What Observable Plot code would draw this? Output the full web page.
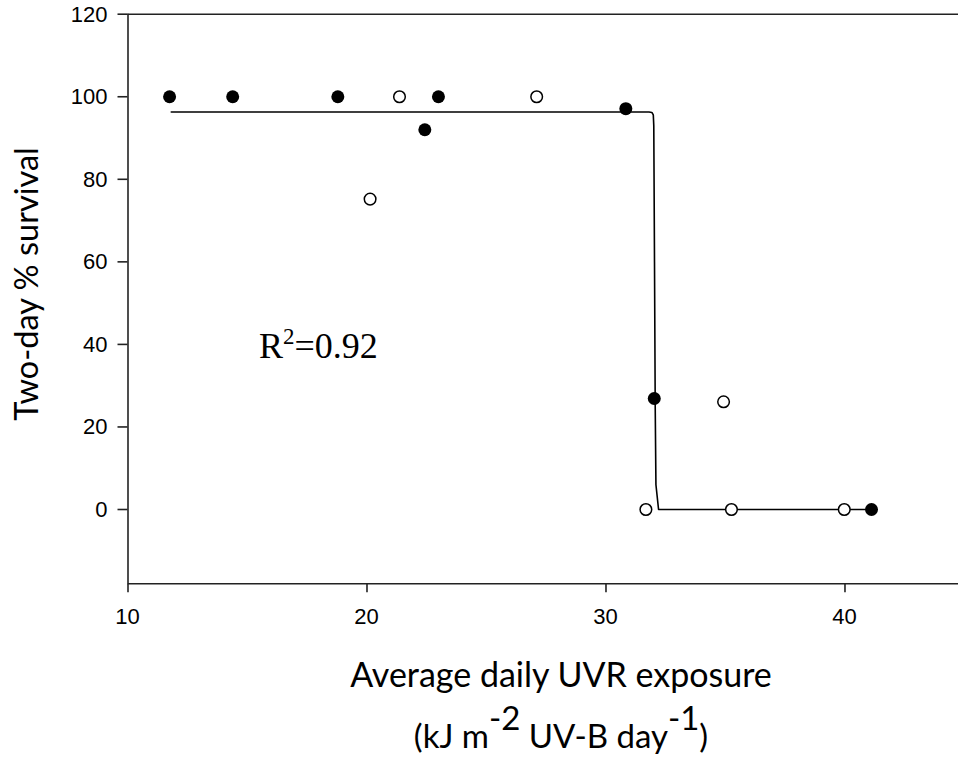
<!DOCTYPE html>
<html>
<head>
<meta charset="utf-8">
<script src="https://cdn.jsdelivr.net/npm/d3@7"></script>
<script src="https://cdn.jsdelivr.net/npm/@observablehq/plot@0.6"></script>
<style>
  html, body { margin: 0; padding: 0; background: #fff; overflow: hidden; }
  #chart { width: 958px; height: 757px; }
</style>
</head>
<body>
<div id="chart"></div>
<script>
// Filled circles (series 1)
const filledX = [11.74, 14.38, 18.78, 22.42, 22.99, 30.83, 32.02, 41.11];
const filledY = [100, 100, 100, 92.0, 100, 97.1, 26.9, 0];
// Open circles (series 2)
const openX = [20.13, 21.36, 27.10, 31.67, 34.92, 35.25, 39.97];
const openY = [75.2, 100, 100, 0, 26.1, 0, 0];
// Fitted sigmoid curve
const fitX = [11.81, 31.80, 31.92, 31.98, 32.00, 32.03, 32.06, 32.09, 32.20, 41.11];
const fitY = [96.3, 96.3, 96.2, 95.6, 93.0, 60.0, 25.0, 6.0, 0.0, 0.0];
// Ticks
const xTicks = [10, 20, 30, 40];
const yTicks = [0, 20, 40, 60, 80, 100, 120];
const xDomain = [10, 44.75];
const yDomain = [-18, 120];
// Annotation
const r2Label = {base: "R", sup: "2", rest: "=0.92", x: 15.5, y: 36.6};
const xLabel1 = "Average daily UVR exposure";
const yLabel = "Two-day % survival";

const filled = filledX.map((x, i) => ({x, y: filledY[i]}));
const open = openX.map((x, i) => ({x, y: openY[i]}));
const fit = fitX.map((x, i) => ({x, y: fitY[i]}));

const axisColor = "#222";
const tickFont = "'Liberation Sans', Arial, sans-serif";
const plot = Plot.plot({
  width: 958,
  height: 757,
  marginLeft: 127.5,
  marginRight: 0,
  marginTop: 13.7,
  marginBottom: 173.7,
  style: {background: "#fff", overflow: "visible"},
  x: {domain: xDomain},
  y: {domain: yDomain},
  marks: [
    Plot.ruleY([yDomain[0]], {stroke: axisColor, strokeWidth: 1.6}),
    Plot.ruleY([yDomain[1]], {stroke: axisColor, strokeWidth: 1.6}),
    Plot.ruleX([xDomain[0]], {stroke: axisColor, strokeWidth: 1.6}),
    Plot.axisX({ticks: xTicks, tickSize: 9, label: null, tickFormat: () => "",
      stroke: axisColor, strokeWidth: 1.6}),
    Plot.axisY({ticks: yTicks, tickSize: 10, label: null, tickFormat: () => "",
      stroke: axisColor, strokeWidth: 1.6}),
    Plot.line(fit, {x: "x", y: "y", stroke: "#000", strokeWidth: 1.6, curve: "linear"}),
    Plot.dot(filled, {x: "x", y: "y", r: 6.5, fill: "#000", stroke: "none"}),
    Plot.dot(open, {x: "x", y: "y", r: 5.8, fill: "#fff", stroke: "#000", strokeWidth: 1.5})
  ]
});
document.getElementById("chart").appendChild(plot);

const svg = d3.select(plot);
const sx = plot.scale("x"), sy = plot.scale("y");

// Tick labels, positioned through the plot's scales
const xBottom = sy.apply(yDomain[0]);
const yLeft = sx.apply(xDomain[0]);
const tl = svg.append("g")
  .attr("font-family", tickFont).attr("font-size", 22).attr("fill", "#000");
tl.selectAll("text.xt").data(xTicks).join("text")
  .attr("class", "xt")
  .attr("x", d => sx.apply(d)).attr("y", xBottom + 40.5)
  .attr("text-anchor", "middle")
  .text(d => String(d));
tl.selectAll("text.yt").data(yTicks).join("text")
  .attr("class", "yt")
  .attr("x", yLeft - 20).attr("y", d => sy.apply(d) + 8)
  .attr("text-anchor", "end")
  .text(d => String(d));

// R^2 annotation
const r2 = svg.append("text")
  .attr("x", sx.apply(r2Label.x)).attr("y", sy.apply(r2Label.y))
  .attr("text-anchor", "start")
  .attr("font-family", "'Liberation Serif', 'Times New Roman', serif")
  .attr("font-size", 36).attr("fill", "#000");
r2.append("tspan").text(r2Label.base);
r2.append("tspan").attr("font-size", 23).attr("dy", -14).text(r2Label.sup);
r2.append("tspan").attr("dy", 14).text(r2Label.rest);

// Axis labels
const labelFont = "Lato, 'Open Sans', sans-serif";
svg.append("text")
  .attr("transform", "translate(38,284) rotate(-90)")
  .attr("text-anchor", "middle")
  .attr("font-family", labelFont).attr("font-size", 32.5).attr("fill", "#000")
  .text(yLabel);

svg.append("text")
  .attr("x", 561).attr("y", 687)
  .attr("text-anchor", "middle")
  .attr("font-family", labelFont).attr("font-size", 34).attr("fill", "#000")
  .text(xLabel1);

const l2 = svg.append("text")
  .attr("x", 561).attr("y", 748)
  .attr("text-anchor", "middle")
  .attr("font-family", labelFont).attr("font-size", 33).attr("fill", "#000");
l2.append("tspan").text("(kJ m");
l2.append("tspan").attr("dy", -18).text("-2");
l2.append("tspan").attr("dy", 18).text(" UV-B day");
l2.append("tspan").attr("dy", -18).text("-1");
l2.append("tspan").attr("dy", 18).text(")");
</script>
</body>
</html>
